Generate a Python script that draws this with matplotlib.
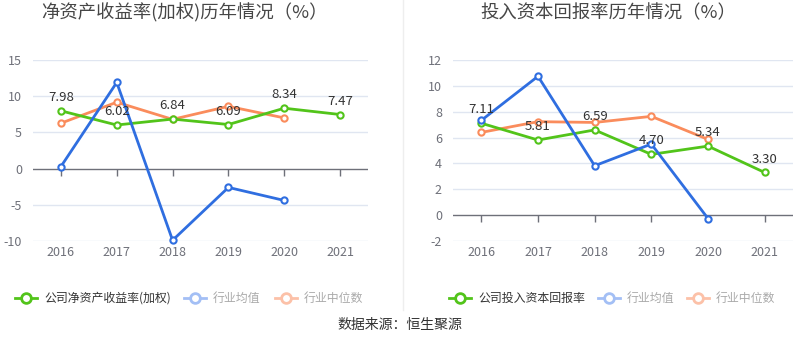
import numpy as np
import matplotlib.pyplot as plt
from matplotlib.lines import Line2D

plt.rcParams['font.family'] = ['Noto Sans CJK SC', 'DejaVu Sans']

years = ['2016', '2017', '2018', '2019', '2020', '2021']

# 净资产收益率(加权)
roe_company = [7.98, 6.02, 6.84, 6.09, 8.34, 7.47]
roe_ind_mean = [0.28, 11.9, -9.9, -2.6, -4.4]
roe_ind_median = [6.27, 9.17, 6.8, 8.6, 7.0]

# 投入资本回报率
roic_company = [7.11, 5.81, 6.59, 4.70, 5.34, 3.30]
roic_ind_mean = [7.33, 10.74, 3.82, 5.5, -0.26]
roic_ind_median = [6.4, 7.23, 7.17, 7.64, 5.86]

green = '#52c41a'
blue = '#2f6ee0'
orange = '#fa8c5c'
W, H = 800, 358

fig = plt.figure(figsize=(8, 3.58), dpi=100)


def px_axes(x0, x1, y_top, y_bot):
    return fig.add_axes([x0 / W, 1 - y_bot / H, (x1 - x0) / W, (y_bot - y_top) / H])


def draw(ax, comp, mean, med, ylim, yticks):
    x = np.arange(len(years))
    ax.set_xlim(-0.5, len(years) - 0.5)
    ax.set_ylim(*ylim)
    for s in ax.spines.values():
        s.set_visible(False)
    for t in yticks:
        if t != 0:
            ax.axhline(t, color='#e0e6f1', lw=1, zorder=0)
    ax.axhline(0, color='#6e7079', lw=1, zorder=1)
    ax.plot(x, np.zeros(len(x)), ls='none', marker=3, markersize=5,
            color='#6e7079', markeredgewidth=1, zorder=1)
    ax.set_yticks(yticks)
    ax.set_yticklabels([str(t) for t in yticks])
    ax.set_xticks(x)
    ax.set_xticklabels(years)
    ax.tick_params(axis='both', length=0, labelsize=9, colors='#6e7079')
    ax.tick_params(axis='y', pad=8)
    ax.tick_params(axis='x', pad=0)
    for s in ax.get_xticklabels():
        s.set_y(-0.03)
    kw = dict(lw=2, marker='o', markersize=4.5, markerfacecolor='white',
              markeredgewidth=1.5, clip_on=False)
    ax.plot(x[:len(med)], med, color=orange, zorder=3, **kw)
    ax.plot(x[:len(comp)], comp, color=green, zorder=4, **kw)
    ax.plot(x[:len(mean)], mean, color=blue, zorder=5, **kw)
    for xi, v in zip(x, comp):
        ax.annotate(f'{v:.2f}', (xi, v), xytext=(0, 5), textcoords='offset points',
                    ha='center', va='bottom', fontsize=9.5, color='#333333', zorder=6)


ax1 = px_axes(33, 368, 60, 241)
draw(ax1, roe_company, roe_ind_mean, roe_ind_median, (-10, 15), [-10, -5, 0, 5, 10, 15])
ax2 = px_axes(453, 793, 60, 241)
draw(ax2, roic_company, roic_ind_mean, roic_ind_median, (-2, 12), [-2, 0, 2, 4, 6, 8, 10, 12])

fig.text(184 / W, 1 - 13 / H, '净资产收益率(加权)历年情况（%）', ha='center', va='center',
         fontsize=13.2, color='#464646')
fig.text(608 / W, 1 - 13 / H, '投入资本回报率历年情况（%）', ha='center', va='center',
         fontsize=13.2, color='#464646')

# separator
fig.add_artist(Line2D([403 / W, 403 / W], [1 - 310 / H, 1], color='#eeeeee', lw=1))


def legend_item(x0, label, color, tcolor):
    y = 1 - 298 / H
    fig.add_artist(Line2D([x0 / W, (x0 + 22) / W], [y, y], color=color, lw=2))
    fig.add_artist(Line2D([(x0 + 11) / W], [y], color=color, marker='o', markersize=7,
                          markerfacecolor='white', markeredgewidth=2))
    fig.text((x0 + 29) / W, y, label, ha='left', va='center', fontsize=8.6, color=tcolor)


legend_item(15, '公司净资产收益率(加权)', green, '#333333')
legend_item(184, '行业均值', '#a3bff5', '#aaaaaa')
legend_item(275, '行业中位数', '#fcc1a8', '#aaaaaa')
legend_item(449, '公司投入资本回报率', green, '#333333')
legend_item(598, '行业均值', '#a3bff5', '#aaaaaa')
legend_item(687, '行业中位数', '#fcc1a8', '#aaaaaa')

fig.text(0.5, 1 - 325 / H, '数据来源：恒生聚源', ha='center', va='center',
         fontsize=10, color='#333333')

fig.savefig('out.png', dpi=100)
